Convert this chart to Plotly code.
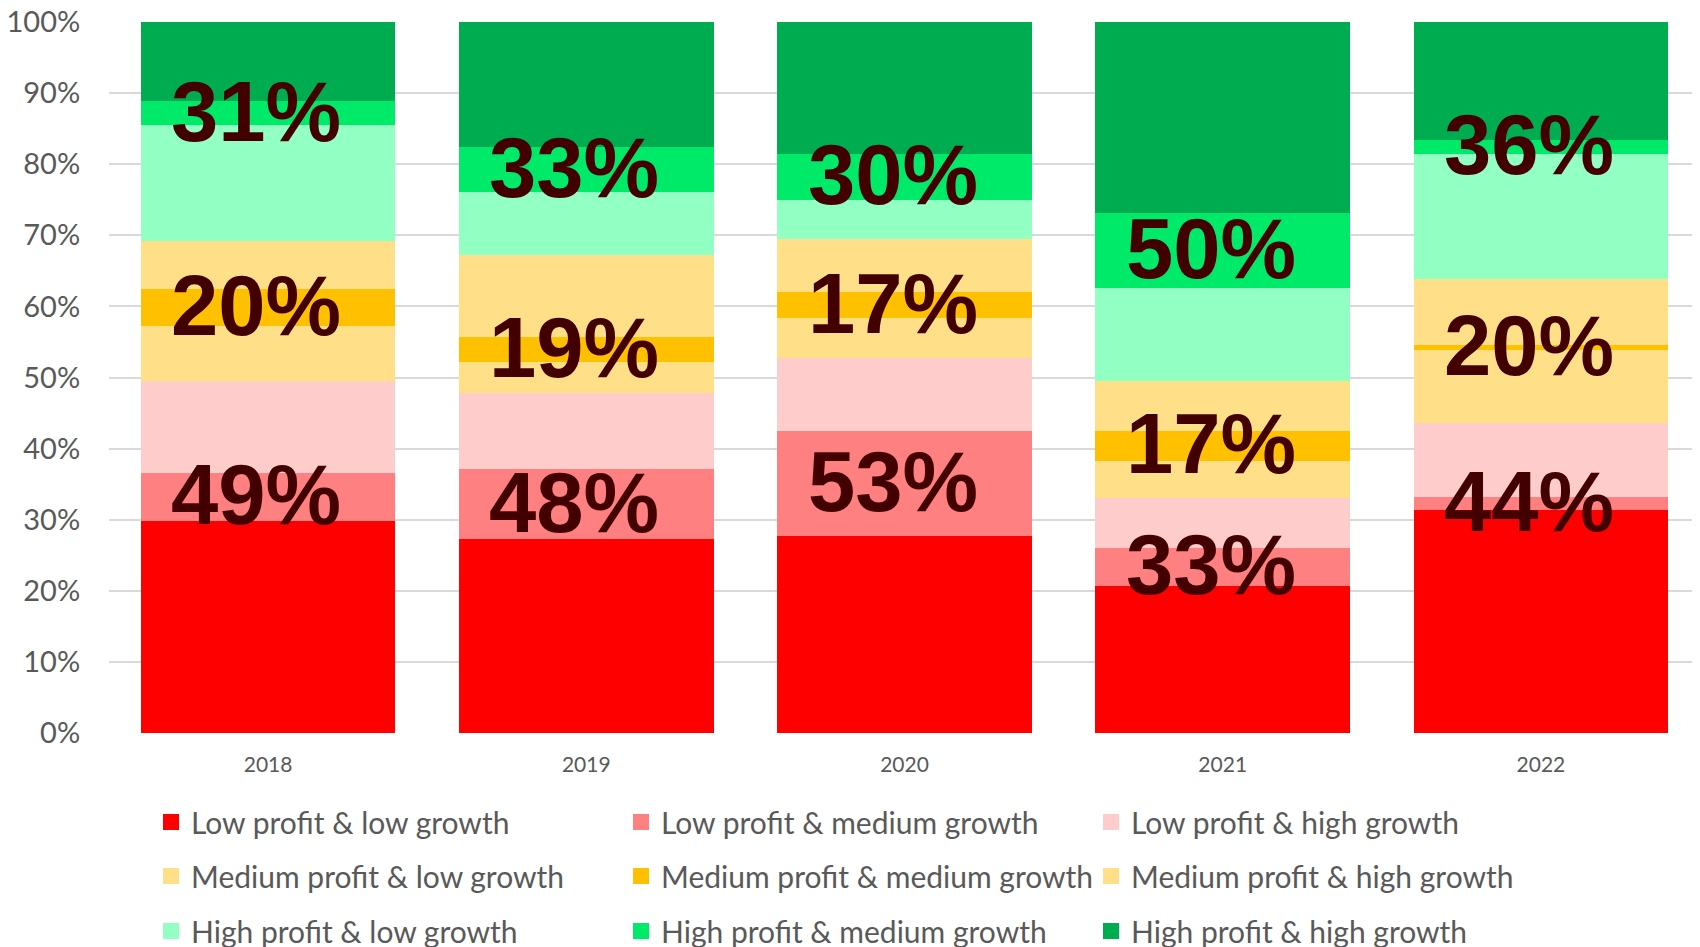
import plotly.graph_objects as go

years = ["2018", "2019", "2020", "2021", "2022"]

series_names = [
    "Low profit & low growth", "Low profit & medium growth", "Low profit & high growth",
    "Medium profit & low growth", "Medium profit & medium growth", "Medium profit & high growth",
    "High profit & low growth", "High profit & medium growth", "High profit & high growth",
]

low_low = [29.8, 27.3, 27.7, 20.7, 31.4]
low_med = [6.8, 9.8, 14.8, 5.3, 1.8]
low_high = [12.9, 10.7, 10.3, 7.0, 10.4]
med_low = [7.8, 4.4, 5.5, 5.3, 10.2]
med_med = [5.1, 3.5, 3.7, 4.2, 0.8]
med_high = [6.8, 11.5, 7.5, 7.0, 9.3]
high_low = [16.3, 8.9, 5.5, 13.1, 17.6]
high_med = [3.4, 6.3, 6.5, 10.6, 1.9]
high_high = [11.1, 17.6, 18.5, 26.8, 16.6]

low_labels = ["49%", "48%", "53%", "33%", "44%"]
med_labels = ["20%", "19%", "17%", "17%", "20%"]
high_labels = ["31%", "33%", "30%", "50%", "36%"]

colors = ["#FF0000", "#FF8080", "#FFCCCC",
          "#FFE089", "#FFC000", "#FFE089",
          "#92FFC3", "#00EA69", "#00AC50"]

series = [low_low, low_med, low_high, med_low, med_med, med_high, high_low, high_med, high_high]
legend_ids = ["legend", "legend", "legend", "legend2", "legend2", "legend2", "legend3", "legend3", "legend3"]

TXT = "#595959"
FONT = "Lato"

fig = go.Figure()
for name, vals, col in zip(series_names, series, colors):
    fig.add_trace(go.Bar(x=years, y=vals, name=name, marker=dict(color=col, line=dict(width=0)),
                         showlegend=False, legendgroup=name))
# legend entries (square swatches) for the bar series
for name, col, lg in zip(series_names, colors, legend_ids):
    fig.add_trace(go.Scatter(x=[None], y=[None], mode="markers", name=name, legendgroup=name,
                             marker=dict(symbol="square", size=16, color=col),
                             legend=lg, showlegend=True, hoverinfo="skip"))

# label annotations centred on the "medium growth" segment of each profit group
# (x given as the category's serial index on the category axis)
totals = [sum(s[i] for s in series) for i in range(len(years))]
groups = [(1, low_labels), (4, med_labels), (7, high_labels)]
for idx, labels in groups:
    for i, yr in enumerate(years):
        base = sum(series[k][i] for k in range(idx))
        yc = (base + series[idx][i] / 2) / totals[i] * 100
        fig.add_annotation(x=i, y=yc, text="<b>" + labels[i] + "</b>", showarrow=False,
                           xshift=-12, yshift=2,
                           font=dict(family="Liberation Sans, Arial", size=85, color="#420000"))

# the page body adds an 8px offset; layout numbers below are in figure pixels
W, H = 1692, 939
PL, PW, PT, PH = 101, 1591, 14, 711
def px_x(p):
    return (p - PL) / PW
def px_y(p):
    return (PT + PH - p) / PH

legend_common = dict(orientation="h", xanchor="left", yanchor="middle", traceorder="normal",
                     entrywidth=425, entrywidthmode="pixels",
                     font=dict(family=FONT, size=30, color=TXT), bgcolor="rgba(0,0,0,0)")
fig.update_layout(
    width=W, height=H,
    margin=dict(l=PL, r=W - PL - PW, t=PT, b=H - PT - PH, autoexpand=False),
    plot_bgcolor="white", paper_bgcolor="white",
    barmode="stack", barnorm="percent", bargap=0.2,
    legend=dict(x=px_x(143), y=px_y(814), **legend_common),
    legend2=dict(x=px_x(143), y=px_y(868), **legend_common),
    legend3=dict(x=px_x(143), y=px_y(923), **legend_common),
    xaxis=dict(type="category", range=[-0.5, len(years) - 0.5], showgrid=False, showline=False,
               zeroline=False, ticks="outside", ticklen=13, tickcolor="rgba(0,0,0,0)",
               automargin=False, tickfont=dict(family=FONT, size=21, color=TXT)),
    yaxis=dict(range=[0, 100], tickmode="array", tickvals=list(range(0, 101, 10)),
               ticktext=[f"{v}%" for v in range(0, 101, 10)],
               showgrid=True, gridcolor="#D9D9D9", gridwidth=2, zeroline=False, showline=False,
               ticks="outside", ticklen=22, tickcolor="rgba(0,0,0,0)", automargin=False,
               ticklabeloverflow="allow",
               tickfont=dict(family=FONT, size=29, color=TXT)),
)

fig.write_html("out.html")
